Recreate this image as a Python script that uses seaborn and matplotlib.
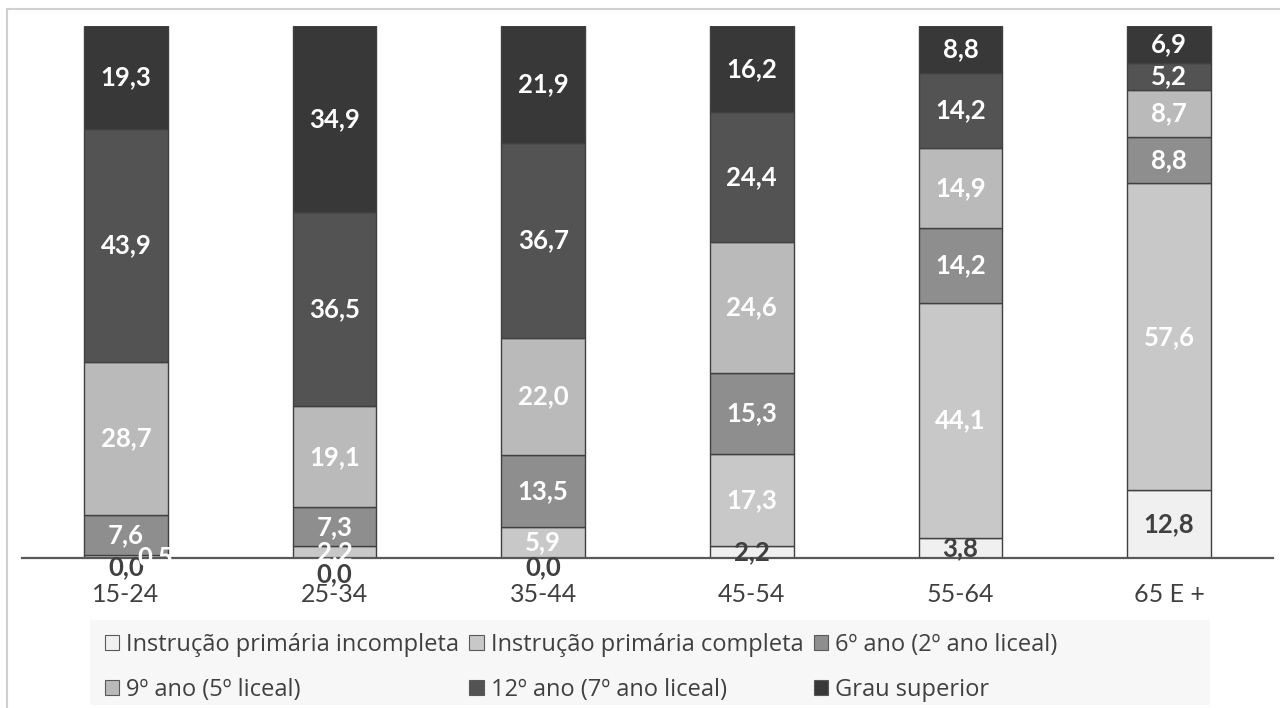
import numpy as np
import pandas as pd
import matplotlib
matplotlib.use("Agg")
import matplotlib.pyplot as plt
from matplotlib.patches import Patch, Rectangle
import seaborn as sns

# idade -> nivel de instrucao (%)
grupos = ['15-24', '25-34', '35-44', '45-54', '55-64', '65 E +']
niveis = ['Instrução primária incompleta', 'Instrução primária completa',
          '6º ano (2º ano liceal)', '9º ano (5º liceal)',
          '12º ano (7º ano liceal)', 'Grau superior']
prim_incompleta = [0.0, 0.0, 0.0, 2.2, 3.8, 12.8]
prim_completa = [0.5, 2.2, 5.9, 17.3, 44.1, 57.6]
ano_6 = [7.6, 7.3, 13.5, 15.3, 14.2, 8.8]
ano_9 = [28.7, 19.1, 22.0, 24.6, 14.9, 8.7]
ano_12 = [43.9, 36.5, 36.7, 24.4, 14.2, 5.2]
superior = [19.3, 34.9, 21.9, 16.2, 8.8, 6.9]
series = [prim_incompleta, prim_completa, ano_6, ano_9, ano_12, superior]

cores = ['#F0F0F0', '#C8C8C8', '#8E8E8E', '#BABABA', '#535353', '#383838']
cor_txt = ['#404040', 'white', 'white', 'white', 'white', 'white']

sns.set_theme(style="white")
plt.rcParams['font.family'] = ['Lato', 'DejaVu Sans']

fig = plt.figure(figsize=(12.8, 7.08), dpi=100)
ax = fig.add_axes([21.7 / 1280, 150 / 708, 1251.6 / 1280, 532 / 708])

base = np.zeros(len(grupos))
for k, (nome, vals, cor, ct) in enumerate(zip(niveis, series, cores, cor_txt)):
    df = pd.DataFrame({'grupo': grupos, 'valor': vals})
    sns.barplot(data=df, x='grupo', y='valor', color=cor, bottom=base,
                width=0.4, edgecolor='#404040', linewidth=1.0,
                saturation=1, ax=ax, errorbar=None)
    for i, v in enumerate(vals):
        xx = i
        yy = base[i] + v / 2
        if v == 0:
            # rotulo nulo fica abaixo do eixo; mais abaixo se o seguinte for pequeno
            prox = series[k + 1][i]
            yy = -3.0 if 1 < prox < 3 else -1.8
        elif v < 1:
            xx = i + 0.14
        ax.text(xx, yy, f'{v:.1f}'.replace('.', ','), ha='center', va='center',
                color=ct, fontsize=18.5, fontweight='bold', clip_on=False)
    base = base + np.array(vals)

ax.set_ylim(0, 100)
ax.set_xlim(-0.5, 5.5)
ax.set_xlabel('')
ax.set_ylabel('')
ax.set_yticks([])
for s in ['top', 'left', 'right']:
    ax.spines[s].set_visible(False)
ax.spines['bottom'].set_color('#595959')
ax.spines['bottom'].set_linewidth(1.6)
ax.tick_params(axis='x', length=0, pad=18, labelsize=18, labelcolor='#404040')
ax.patch.set_alpha(0)

# fundo da legenda
fig.patches.append(Rectangle((90 / 1280, 3 / 708), 1120 / 1280, 85 / 708,
                             transform=fig.transFigure, facecolor='#F7F7F7',
                             edgecolor='none', zorder=0))
# moldura
fig.patches.append(Rectangle((7 / 1280, -0.1), 1.2, 0.1 + 699 / 708,
                             transform=fig.transFigure, fill=False,
                             edgecolor='#D0D0D0', linewidth=1.5, zorder=0))

# legenda preenchida por linhas (matplotlib preenche por colunas)
ordem = [0, 3, 1, 4, 2, 5]
handles = [Patch(facecolor=cores[k], edgecolor='#595959', linewidth=0.8) for k in ordem]
rotulos = [niveis[k] for k in ordem]
fig.legend(handles, rotulos, ncol=3, loc='upper left',
           bbox_to_anchor=(88 / 1280, 92 / 708), frameon=False,
           prop={'family': ['Open Sans', 'DejaVu Sans'], 'size': 17},
           labelcolor='#404040', handlelength=0.6,
           handleheight=0.6, handletextpad=0.3, columnspacing=0.45,
           labelspacing=0.9, borderpad=0.2)

fig.savefig('out.png', dpi=100)
